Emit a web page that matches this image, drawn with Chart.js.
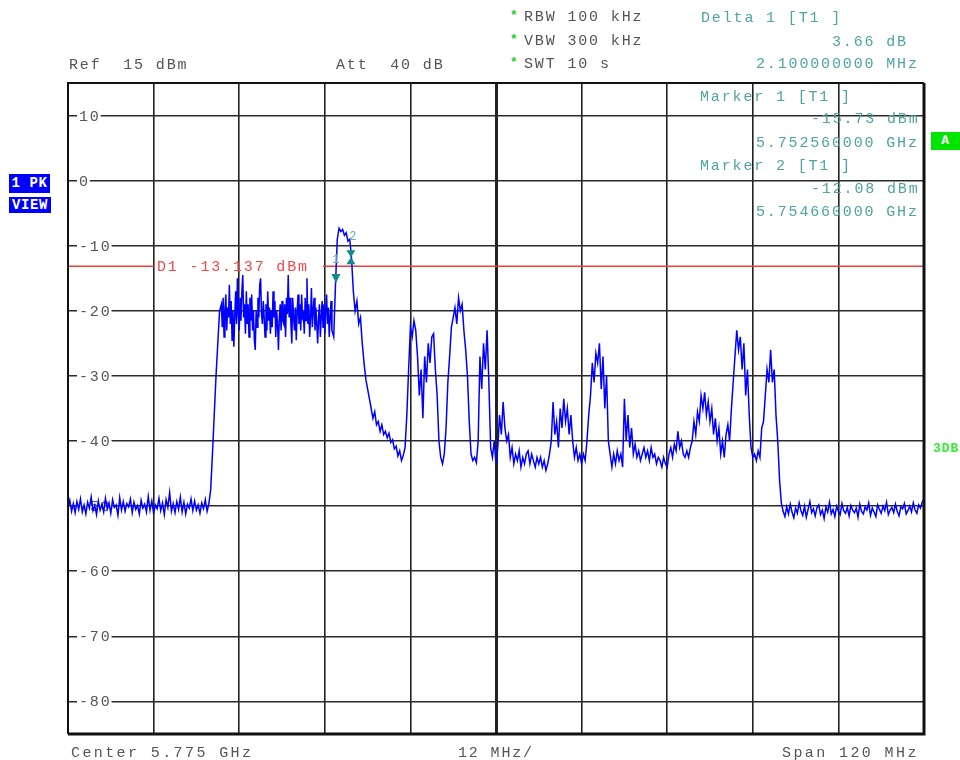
<!DOCTYPE html>
<html>
<head>
<meta charset="utf-8">
<title>Spectrum 5.775 GHz</title>
<script src="https://cdn.jsdelivr.net/npm/chart.js@4.4.0/dist/chart.umd.min.js"></script>
<style>
	html, body { margin: 0; padding: 0; background: #fff; overflow: hidden; }
	#wrap { position: relative; width: 960px; height: 760px; }
	#spec { position: absolute; left: 0; top: 0; }
	.t { position: absolute; font: 15px "Liberation Mono", monospace; letter-spacing: 1.85px; line-height: 15px; white-space: pre; color: #555; }
	.teal { color: #4fa3a3; }
	.wide { letter-spacing: 2.4px; }
	.star { position: absolute; font: bold 13px "Liberation Mono", monospace; line-height: 13px; color: #22cc22; }
	.box { position: absolute; color: #fff; font: bold 14px "Liberation Mono", monospace; letter-spacing: 0.6px; text-align: center; white-space: pre; }
</style>
</head>
<body>
<div id="wrap">
	<canvas id="spec" width="960" height="760"></canvas>

	<span class="star" style="left:510px;top:9px">*</span>
	<span class="star" style="left:510px;top:33px">*</span>
	<span class="star" style="left:510px;top:56px">*</span>
	<div class="t" style="left:524px;top:9.5px">RBW 100 kHz</div>
	<div class="t" style="left:524px;top:33.5px">VBW 300 kHz</div>
	<div class="t" style="left:524px;top:56.5px">SWT 10 s</div>
	<div class="t" style="left:69px;top:57.5px">Ref  15 dBm</div>
	<div class="t" style="left:336px;top:57.5px">Att  40 dB</div>

	<div class="t teal" style="left:701px;top:10.5px">Delta 1 [T1 ]</div>
	<div class="t teal" style="left:832px;top:34.5px">3.66 dB</div>
	<div class="t teal" style="left:756px;top:56.5px">2.100000000 MHz</div>
	<div class="t teal" style="left:700px;top:89.5px">Marker 1 [T1 ]</div>
	<div class="t teal" style="left:811px;top:111.5px">-15.73 dBm</div>
	<div class="t teal" style="left:756px;top:135.5px">5.752560000 GHz</div>
	<div class="t teal" style="left:700px;top:158.5px">Marker 2 [T1 ]</div>
	<div class="t teal" style="left:811px;top:181.5px">-12.08 dBm</div>
	<div class="t teal" style="left:756px;top:204.5px">5.754660000 GHz</div>

	<div class="t wide" style="left:71px;top:745.5px">Center 5.775 GHz</div>
	<div class="t" style="left:458px;top:745.5px">12 MHz/</div>
	<div class="t wide" style="left:782px;top:745.5px">Span 120 MHz</div>

	<div class="box" style="left:9px;top:174px;width:41px;height:19px;line-height:19px;background:#0000ff">1 PK</div>
	<div class="box" style="left:9px;top:197px;width:42px;height:16px;line-height:16px;background:#0000ff">VIEW</div>
	<div class="box" style="left:931px;top:132px;width:29px;height:18px;line-height:18px;background:#00e400;font-size:13px">A</div>
	<div class="t" style="left:933px;top:441px;color:#33ee33;font-weight:bold;font-size:13px;letter-spacing:0.9px">3DB</div>
</div>

<script>
// sweep: 0..120 MHz offset from 5.715 GHz
const spanMHz = 120;
const divMHz = 12;
const refLevel = 15;
const bottomLevel = -85;
const yTicks = [10, 0, -10, -20, -30, -40, -50, -60, -70, -80];
const displayLine = -13.137;
const markerFreqs = [37.56, 39.66];   // 5.752560 / 5.754660 GHz
const markerLevels = [-15.73, -12.08];

// trace levels in dBm
const floorLeft = [
	-50.2, -49.1, -50.8, -49.6, -51.0, -49.3, -50.5, -48.9, -50.9, -49.8,
	-51.2, -49.4, -50.3, -48.6, -50.7, -49.9, -51.3, -49.2, -50.6, -49.7,
	-50.9, -48.8, -50.4, -49.5, -51.1, -49.0, -50.2, -49.8, -51.4, -48.7,
	-50.6, -49.3, -50.8, -49.6, -50.1, -48.9, -51.0, -49.4, -50.5, -49.9,
	-51.2, -49.1, -50.3, -49.7, -50.9, -48.5, -50.6, -49.2, -51.1, -49.8,
	-50.4, -48.8, -50.7, -49.5, -51.3, -49.0, -50.2, -47.9, -50.8, -49.6,
	-51.0, -49.3, -50.5, -48.6, -50.9, -49.4, -51.2, -49.7, -50.3, -48.9,
	-50.7, -49.2, -50.6, -49.8, -51.1, -49.5, -50.4, -49.0, -50.8, -49.6
];
const riseEdge = [-47.5, -42, -36, -30, -25, -20];
const channelBand = [
	-19, -22.5, -18, -24, -20, -17.5, -23, -19.5, -21, -16,
	-22, -18.5, -24.5, -20, -25.5, -21, -17, -22, -15, -20.5,
	-23, -18, -21.5, -17, -14.5, -21, -19, -23.5, -17, -22,
	-19, -24, -18, -21.5, -17.5, -23, -20, -24.5, -26, -20,
	-22.5, -18, -21, -16, -15, -20.5, -22, -18.5, -21, -24,
	-19, -23, -17, -21.5, -19.5, -23.5, -20, -22.5, -17, -21,
	-18.5, -24, -20, -22, -26, -21, -19, -23, -18.5, -21.5,
	-22, -19, -24, -18, -20.5, -14.5, -21, -18, -22, -25,
	-18, -21, -23, -19.5, -24.5, -20, -17.5, -22, -19, -23,
	-17.5, -21, -20.5, -23.5, -18, -21.5, -15, -22, -19, -24,
	-21, -16.5, -22.5, -20, -18, -23, -19.5, -22, -25, -21,
	-19, -24, -21, -18.5, -22.5, -19, -23.5, -20, -17.5, -22,
	-19.5, -24, -21, -18.5, -23
];
const carrierTop = [
	-24, -16, -9, -7.3, -7.8, -7.5, -8.4, -8.0, -9.3, -9.0,
	-12, -17, -20, -18.5, -22, -21, -25, -28, -30.5, -32,
	-33.5, -35, -36.5, -35.5, -37.5, -37, -38.5, -37.5, -39, -38.5,
	-39.5, -38.8, -40.2, -39.8, -41.2, -40.8, -42.3, -41.5, -43.0, -42.2
];
const burstsA = [
	-41, -36, -29, -22.5, -24, -21.5, -23, -27, -33, -29,
	-36.5, -27, -31, -25, -28, -24, -23.5, -29, -33, -40,
	-42.5, -43.5, -42, -38, -31, -27, -22.5, -21, -19.5, -22,
	-18, -20, -19, -23, -26, -30, -37, -42, -43, -42.5,
	-43.3, -40, -27, -32, -25, -29, -23, -31, -41, -42.5,
	-40, -43.5, -41, -36, -39, -34, -38, -40, -39, -42.5,
	-41, -43.5
];
const burstsB = [
	-42, -43, -41.5, -44, -42.5, -43.5, -42, -41.5, -43.5, -42,
	-43, -44, -42.5, -43.5, -42.5, -44, -43, -44.5, -43.5, -42,
	-40, -34, -39, -37, -41, -35, -38, -33.5, -37, -35,
	-39, -36, -40, -42.5, -41, -43, -42, -43.5, -42, -43,
	-40, -36, -33, -28, -31, -26.5, -28, -25, -32, -27,
	-35, -30, -40, -42, -44, -42, -43.5, -41.5, -43, -42,
	-44, -33.5, -40, -36, -41, -38, -42, -40.5, -42.5, -41.5
];
const burstsC = [
	-43, -42, -41, -42.5, -41.5, -43, -41, -42.5, -42, -43.5,
	-42.5, -43, -44, -42.5, -43.5, -44, -42, -41, -42.5, -40.5,
	-41.5, -38.5, -41, -40, -42, -42.5, -41.5, -42.5, -41, -40,
	-37, -39, -35.5, -37, -33, -35, -32.5, -36, -34, -37,
	-35, -39, -36.5, -40, -38, -42, -40, -42.5, -39, -37.5,
	-40, -35, -31, -27, -23, -26, -24, -29, -25, -33,
	-29, -36, -41, -42.5, -42, -43, -41.5, -42.5, -38, -37,
	-33, -29, -31, -26, -31, -29, -36, -40, -46, -49.5
];
const floorRight = [
	-50.8, -51.6, -50.1, -51.2, -49.7, -50.9, -51.8, -50.3, -51.1, -49.5,
	-50.7, -51.4, -50.0, -51.7, -50.5, -49.3, -51.0, -50.4, -51.5, -50.2,
	-49.8, -51.3, -50.6, -51.9, -50.1, -50.9, -49.4, -51.2, -50.5, -51.6,
	-50.0, -50.8, -51.3, -49.6, -50.7, -51.1, -50.2, -51.5, -49.9, -50.6,
	-51.0, -50.3, -51.7, -49.7, -50.8, -51.2, -50.1, -50.6, -49.5, -51.4,
	-50.3, -50.9, -51.6, -49.8, -50.5, -51.1, -50.0, -50.7, -49.4, -51.3,
	-50.6, -50.2, -51.0, -49.7, -50.8, -51.5, -50.1, -50.4, -49.6, -51.2,
	-50.7, -50.0, -50.9, -49.5, -50.6, -51.1, -49.8, -50.3, -49.4, -48.8
];

// start frequency (MHz offset) and sample step of each piece of the trace
const segments = [
	[0, 0.25, floorLeft], [20, 0.25, riseEdge], [21.5, 0.125, channelBand],
	[37.25, 0.25, carrierTop], [47.25, 0.25, burstsA], [62.75, 0.25, burstsB],
	[80.25, 0.25, burstsC], [100.25, 0.25, floorRight]
];

function buildTrace() {
	const pts = [];
	segments.forEach(([start, step, vals]) => {
		vals.forEach((v, i) => pts.push({ x: start + i * step, y: v }));
	});
	return pts;
}

const textFont = '15px "Liberation Mono", monospace';

// level labels, display line, markers and frame drawn like the analyzer screen
const screenPlugin = {
	id: 'screen',
	beforeDatasetsDraw(chart) {
		const { ctx, chartArea: a, scales: { y } } = chart;
		ctx.save();
		ctx.font = textFont;
		if ('letterSpacing' in ctx) ctx.letterSpacing = '1.85px';
		ctx.textBaseline = 'middle';
		yTicks.forEach(v => {
			const py = y.getPixelForValue(v);
			const txt = String(v);
			const w = ctx.measureText(txt).width;
			ctx.fillStyle = '#fff';
			ctx.fillRect(a.left + 9, py - 6, w + 2, 12);
			ctx.fillStyle = '#555';
			ctx.fillText(txt, a.left + 11, py + 1);
		});

		const ly = y.getPixelForValue(displayLine);
		const label = 'D1 ' + displayLine.toFixed(3) + ' dBm';
		const lx = a.left + 89;
		const lw = ctx.measureText(label).width;
		ctx.strokeStyle = '#f03c3c';
		ctx.lineWidth = 1.5;
		ctx.beginPath();
		ctx.moveTo(a.left, ly); ctx.lineTo(lx - 2, ly);
		ctx.moveTo(lx + lw + 14, ly); ctx.lineTo(a.right, ly);
		ctx.stroke();
		ctx.fillStyle = '#f04848';
		ctx.fillText(label, lx, ly + 1);
		ctx.restore();
	},
	afterDatasetsDraw(chart) {
		const { ctx, chartArea: a, scales: { x, y } } = chart;
		ctx.save();
		const mx = markerFreqs.map(f => x.getPixelForValue(f));
		const my = markerLevels.map(l => y.getPixelForValue(l));

		ctx.fillStyle = '#138a8a';
		// marker 1: triangle pointing down onto the trace
		ctx.beginPath();
		ctx.moveTo(mx[0] - 4.5, my[0] - 9);
		ctx.lineTo(mx[0] + 4.5, my[0] - 9);
		ctx.lineTo(mx[0], my[0]);
		ctx.closePath();
		ctx.fill();
		// marker 2 (delta): hourglass
		const c = my[1] - 2;
		ctx.beginPath();
		ctx.moveTo(mx[1] - 4.5, c - 7);
		ctx.lineTo(mx[1] + 4.5, c - 7);
		ctx.lineTo(mx[1], c);
		ctx.lineTo(mx[1] + 4.5, c + 7);
		ctx.lineTo(mx[1] - 4.5, c + 7);
		ctx.lineTo(mx[1], c);
		ctx.closePath();
		ctx.fill();

		ctx.font = '12px "Liberation Mono", monospace';
		ctx.textAlign = 'center';
		ctx.textBaseline = 'middle';
		ctx.fillStyle = '#5fb0b0';
		ctx.fillText('1', mx[0], my[0] - 23);
		ctx.fillText('2', mx[1] + 2, my[1] - 22);

		// screen frame
		ctx.strokeStyle = '#111';
		ctx.lineWidth = 2;
		ctx.beginPath();
		ctx.moveTo(a.left, a.bottom); ctx.lineTo(a.left, a.top); ctx.lineTo(a.right, a.top);
		ctx.stroke();
		ctx.lineWidth = 3;
		ctx.beginPath();
		ctx.moveTo(a.right, a.top); ctx.lineTo(a.right, a.bottom); ctx.lineTo(a.left, a.bottom);
		ctx.stroke();
		ctx.restore();
	}
};

function createSpectrum() {
	const canvas = document.getElementById('spec');
	if (!canvas) return;
	try {
		new Chart(canvas, {
			type: 'line',
			data: {
				datasets: [{
					label: 'Trace 1',
					data: buildTrace(),
					borderColor: '#0000ff',
					borderWidth: 1.5,
					pointRadius: 0,
					tension: 0
				}]
			},
			options: {
				responsive: false,
				animation: false,
				layout: { padding: { left: 68, right: 36, top: 83, bottom: 26 } },
				plugins: { legend: { display: false }, tooltip: { enabled: false } },
				scales: {
					x: {
						type: 'linear',
						min: 0,
						max: spanMHz,
						ticks: { stepSize: divMHz, display: false },
						grid: {
							color: '#222',
							lineWidth: ctx => (ctx.tick && ctx.tick.value === spanMHz / 2 ? 3 : 1.6),
							drawTicks: false
						},
						border: { display: false }
					},
					y: {
						min: bottomLevel,
						max: refLevel,
						afterBuildTicks: scale => { scale.ticks = yTicks.map(v => ({ value: v })); },
						ticks: { display: false },
						grid: { color: '#2a2a2a', lineWidth: 1.6, drawTicks: false },
						border: { display: false }
					}
				}
			},
			plugins: [screenPlugin]
		});
	} catch (err) {
		console.error('spectrum chart init error', err);
	}
}

document.addEventListener('DOMContentLoaded', createSpectrum);
</script>
</body>
</html>
